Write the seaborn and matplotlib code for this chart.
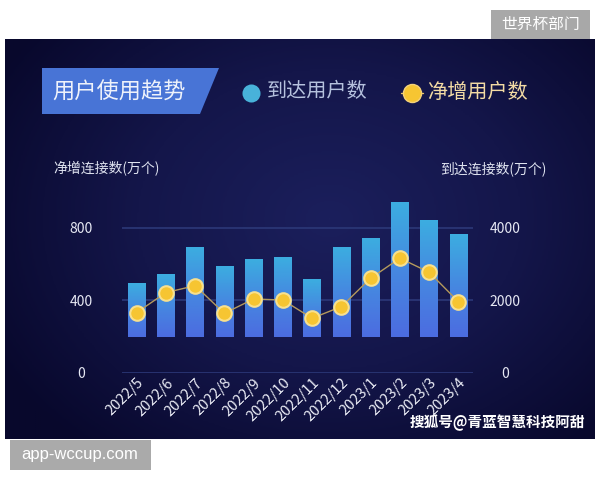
"""User trend chart: reached users (bars) and net new users (dots)"""

import numpy as np
import pandas as pd
import seaborn as sns
import matplotlib.pyplot as plt
import matplotlib.transforms as mtransforms
from matplotlib.patches import Polygon, Rectangle
from matplotlib.lines import Line2D
from matplotlib.colors import LinearSegmentedColormap

months = ['2022/5', '2022/6', '2022/7', '2022/8', '2022/9', '2022/10',
          '2022/11', '2022/12', '2023/1', '2023/2', '2023/3', '2023/4']
arrive_users = [2480, 2710, 3470, 2930, 3130, 3180, 2580, 3470, 3720, 4710, 4200, 3810]
net_users = [332, 442, 480, 328, 407, 401, 301, 365, 521, 631, 554, 392]
left_ticks = [0, 400, 800]
right_ticks = [0, 2000, 4000]

BAR_BASE = 1000
W, H = 600, 480


def fx(px):
    return px / W


def fy(py):
    return 1 - py / H


sns.set_theme(style='dark')
plt.rcParams['font.family'] = ['Noto Sans CJK SC', 'DejaVu Sans']

fig = plt.figure(figsize=(6, 4.8), dpi=100)
fig.patch.set_facecolor('white')

# dark panel with soft radial glow
bg = fig.add_axes([fx(5), fy(439), fx(595) - fx(5), fy(39) - fy(439)])
yy, xx = np.mgrid[0:1:200j, 0:1:300j]
r = np.sqrt(((xx - 0.55) / 0.65) ** 2 + ((yy - 0.45) / 0.75) ** 2)
bg_cmap = LinearSegmentedColormap.from_list('bg', ['#1b1f5c', '#14164a', '#08082c'])
bg.imshow(np.clip(r, 0, 1), cmap=bg_cmap, aspect='auto', extent=[0, 1, 0, 1])
bg.set_axis_off()

df = pd.DataFrame({'month': months, 'arrive': arrive_users, 'net': net_users})
df['bar_h'] = df['arrive'] - BAR_BASE

ax = fig.add_axes([fx(122), fy(373), fx(473) - fx(122), (373 - 190) / H])
ax.patch.set_alpha(0)
sns.barplot(data=df, x='month', y='bar_h', ax=ax, width=0.6, bottom=BAR_BASE,
            color='#4a7fe0', saturation=1, errorbar=None, zorder=2,
            linewidth=0, edgecolor='none')

# vertical gradient inside each bar
bar_cmap = LinearSegmentedColormap.from_list('bar', ['#3cade0', '#4688e0', '#4c6ce0'])
grad = np.linspace(0, 1, 100).reshape(-1, 1)
for p in list(ax.patches):
    x0, y0 = p.get_x(), p.get_y()
    im = ax.imshow(grad, cmap=bar_cmap, aspect='auto', origin='upper',
                   extent=[x0, x0 + p.get_width(), y0, y0 + p.get_height()], zorder=2.1)
    im.set_clip_path(p)

ax2 = ax.twinx()
sns.lineplot(data=df, x='month', y='net', ax=ax2, sort=False, color='#b59a5c', lw=1,
             marker='o', markersize=10.5, markerfacecolor='#f6c532',
             markeredgecolor='#f8e08e', markeredgewidth=1.5)

ax.set_xlim(-0.5, len(months) - 0.5)
ax.set_ylim(0, 5031)
ax2.set_ylim(0, 1006)
ax.yaxis.tick_right()
ax2.yaxis.tick_left()
ax.set_yticks(right_ticks)
ax2.set_yticks(left_ticks)
ax.grid(axis='y', color='#2c3878', lw=1.2)
ax.grid(axis='x', visible=False)
ax.set_axisbelow(True)
for a in (ax, ax2):
    a.set_xlabel('')
    a.set_ylabel('')
    for s in a.spines.values():
        s.set_visible(False)

ax.tick_params(axis='y', length=0, labelsize=10, labelcolor='#e6e8f3', pad=23)
ax2.tick_params(axis='y', length=0, labelsize=10, labelcolor='#e6e8f3', pad=29.5)
ax.tick_params(axis='x', length=0, labelsize=10.5, labelcolor='#eceef7', pad=2)
for t in ax.get_yticklabels() + ax2.get_yticklabels():
    t.set_ha('center')
shift = mtransforms.ScaledTranslation(10 / 100, 0, fig.dpi_scale_trans)
for t in ax.get_xticklabels():
    t.set_rotation(45)
    t.set_ha('right')
    t.set_transform(t.get_transform() + shift)

# axis titles
fig.text(fx(53), fy(169), '净增连接数(万个)', fontsize=10, color='#dfe3f0', va='center')
fig.text(fx(440), fy(169), '到达连接数(万个)', fontsize=10, color='#dfe3f0', va='center')

# title badge
badge = Polygon([(fx(42), fy(68)), (fx(219), fy(68)), (fx(200), fy(114)), (fx(42), fy(114))],
                closed=True, transform=fig.transFigure, facecolor='#4874d6', edgecolor='none')
fig.add_artist(badge)
fig.text(fx(52), fy(92), '用户使用趋势', fontsize=16, color='#eef2fb', va='center')

# legend
fig.add_artist(Line2D([fx(251)], [fy(93)], transform=fig.transFigure, marker='o',
                      markersize=13, markerfacecolor='#48b2da', markeredgecolor='none', lw=0))
fig.text(fx(267), fy(92), '到达用户数', fontsize=14.5, color='#b6c2de', va='center')
fig.add_artist(Line2D([fx(401), fx(423)], [fy(93), fy(93)], transform=fig.transFigure,
                      color='#e9c46a', lw=1))
fig.add_artist(Line2D([fx(412)], [fy(93)], transform=fig.transFigure, marker='o',
                      markersize=13, markerfacecolor='#f6c532', markeredgecolor='#f4d27a', lw=0))
fig.text(fx(427), fy(92), '净增用户数', fontsize=14.5, color='#f3dba4', va='center')

# watermark
fig.text(fx(410), fy(423), '搜狐号@青蓝智慧科技阿甜', fontsize=10.5, color='white',
         weight='bold', va='center')

# grey tags outside the panel
fig.add_artist(Rectangle((fx(491), fy(39)), fx(590) - fx(491), fy(10) - fy(39),
                         transform=fig.transFigure, facecolor='#a8a8a8', edgecolor='none'))
fig.text(fx(540.5), fy(24.5), '世界杯部门', fontsize=11.3, color='white', ha='center', va='center')
fig.add_artist(Rectangle((fx(10), fy(470)), fx(151) - fx(10), fy(440) - fy(470),
                         transform=fig.transFigure, facecolor='#aaaaaa', edgecolor='none'))
fig.text(fx(21), fy(455), 'app-wccup.com', fontsize=12, color='white', va='center',
         family=['Liberation Sans', 'DejaVu Sans'])

fig.savefig('out.png', dpi=100)
